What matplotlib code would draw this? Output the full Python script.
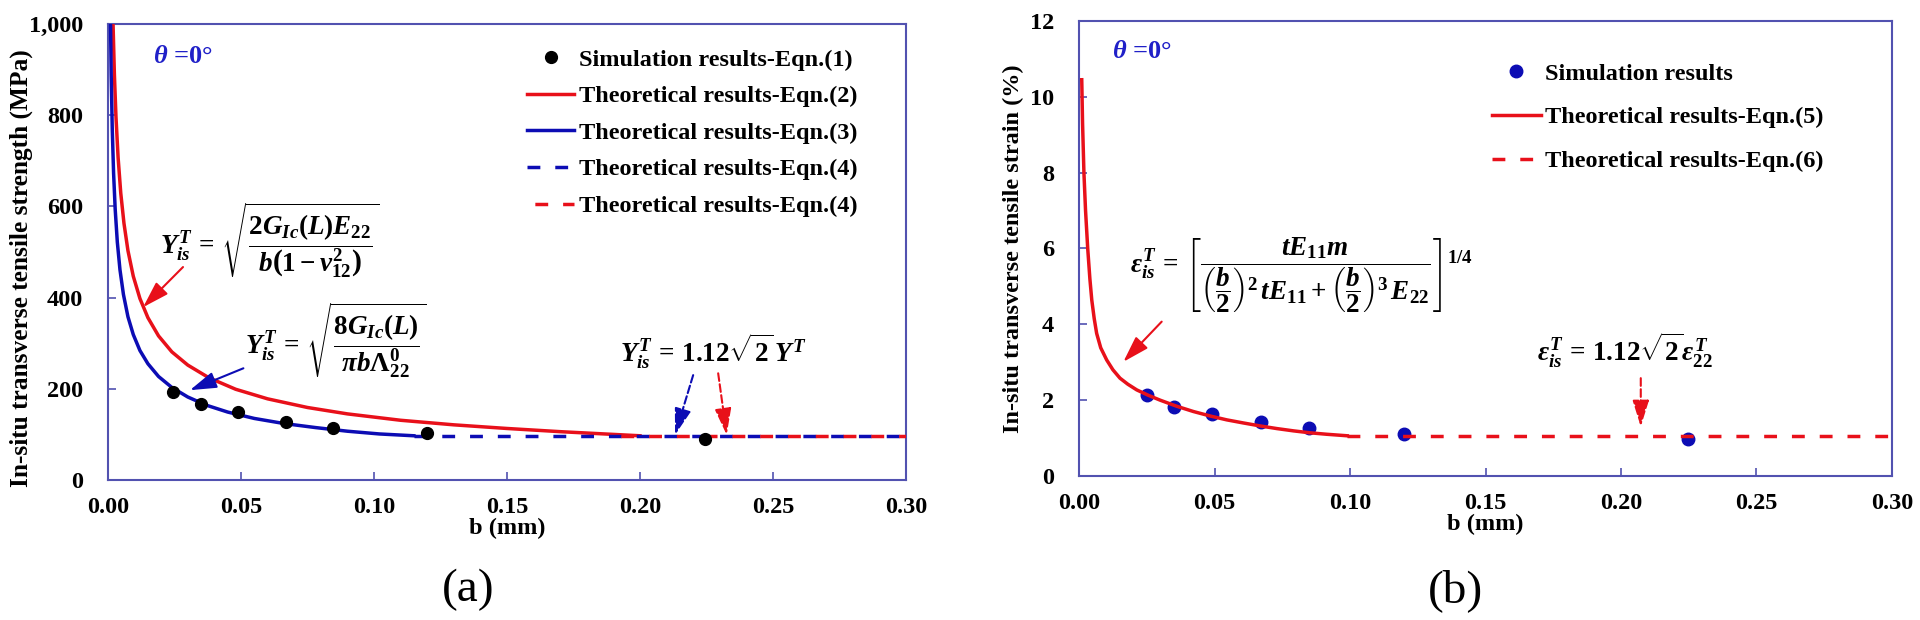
import matplotlib
matplotlib.use('Agg')
import matplotlib.pyplot as plt
from matplotlib.ticker import FuncFormatter

# ─────────── style ───────────
plt.rcParams['font.family'] = 'Liberation Serif'
plt.rcParams['font.weight'] = 'bold'
plt.rcParams['axes.labelweight'] = 'bold'
plt.rcParams['mathtext.fontset'] = 'custom'
plt.rcParams['mathtext.rm'] = 'Liberation Serif:bold'
plt.rcParams['mathtext.it'] = 'Liberation Serif:italic:bold'
plt.rcParams['mathtext.bf'] = 'Liberation Serif:bold'

RED = '#e8101a'
BLUE = '#0c0cb4'
SPINE = '#5252b0'
FS = 17.5
FS_EQ = 19.5

# ─────────── data (a): strength vs b ───────────
sim_b_a = [0.0244, 0.035, 0.0489, 0.067, 0.0846, 0.120, 0.2244]
sim_Y_a = [193, 167, 149, 127, 114, 103, 90]

eq2_b = [0.0019, 0.0024, 0.003, 0.0038, 0.0048, 0.006, 0.0075, 0.0095, 0.012, 0.015,
         0.019, 0.024, 0.030, 0.038, 0.048, 0.060, 0.075, 0.090, 0.110, 0.130,
         0.150, 0.170, 0.190, 0.200]
eq2_Y = [1000, 890, 796, 707, 629, 563, 503, 447, 398, 356,
         316, 281, 252, 224, 199, 178, 159, 145, 131, 121,
         113, 106, 100, 97]

eq3_b = [0.00095, 0.0012, 0.0016, 0.0021, 0.0027, 0.0035, 0.0045, 0.0058, 0.0075, 0.0095,
         0.012, 0.015, 0.019, 0.024, 0.030, 0.037, 0.045, 0.055, 0.066, 0.078,
         0.090, 0.102, 0.115]
eq3_Y = [1000, 888, 770, 673, 594, 522, 461, 407, 358, 319,
         284, 255, 227, 203, 182, 164, 149, 135, 124, 115,
         107, 101, 97]

eq4_blue_b = [0.115, 0.30]
eq4_blue_Y = [97, 97]
eq4_red_b = [0.19, 0.30]
eq4_red_Y = [97, 97]

# ─────────── data (b): strain vs b ───────────
sim_b_b = [0.0252, 0.0352, 0.0492, 0.0672, 0.0849, 0.120, 0.2248]
sim_e_b = [2.14, 1.81, 1.64, 1.42, 1.27, 1.12, 0.97]

eq5_b = [0.0010, 0.0013, 0.0018, 0.0024, 0.0032, 0.0040, 0.0047, 0.0056, 0.0065, 0.0080,
         0.0102, 0.0125, 0.0151, 0.0180, 0.0213, 0.0255, 0.0299, 0.0360, 0.0422, 0.0485,
         0.0545, 0.0605, 0.0668, 0.0730, 0.0791, 0.0850, 0.0914, 0.0990]
eq5_e = [10.45, 9.3, 8.0, 7.0, 6.0, 5.2, 4.64, 4.15, 3.76, 3.38,
         3.06, 2.80, 2.58, 2.42, 2.27, 2.13, 2.00, 1.84, 1.70, 1.58,
         1.48, 1.40, 1.32, 1.25, 1.19, 1.14, 1.10, 1.06]

eq6_b = [0.099, 0.30]
eq6_e = [1.06, 1.06]

DASH = (0, (3.7, 4.3))


def style_axes(ax):
    for s in ax.spines.values():
        s.set_color(SPINE)
        s.set_linewidth(1.5)
    ax.tick_params(direction='in', length=6, width=1.2, color=SPINE,
                   labelsize=FS, top=False, right=False)
    ax.tick_params(axis='x', pad=12)
    ax.tick_params(axis='y', pad=18)
    ax.set_xlim(0, 0.30)
    ax.set_xticks([0, 0.05, 0.10, 0.15, 0.20, 0.25, 0.30])
    ax.xaxis.set_major_formatter(FuncFormatter(lambda v, p: f'{v:.2f}'))
    ax.set_xlabel('b (mm)', fontsize=FS, labelpad=0)


fig = plt.figure(figsize=(19.2, 6.2), dpi=100)
ax1 = fig.add_axes([0.05625, 0.2258, 0.4156, 0.7355])
ax2 = fig.add_axes([0.5620, 0.2323, 0.4234, 0.7339])

# ─────────── panel (a) ───────────
ax1.plot(eq2_b, eq2_Y, color=RED, lw=2.5, label='Theoretical results-Eqn.(2)', zorder=3)
ax1.plot(eq3_b, eq3_Y, color=BLUE, lw=2.5, label='Theoretical results-Eqn.(3)', zorder=3)
ax1.plot(eq4_blue_b, eq4_blue_Y, color=BLUE, lw=2.5, ls=DASH,
         label='Theoretical results-Eqn.(4)', zorder=3)
ax1.plot(eq4_red_b, eq4_red_Y, color=RED, lw=2.5, ls=(5.74, (3.7, 4.3)),
         label='Theoretical results-Eqn.(4)', zorder=4)
ax1.plot(sim_b_a, sim_Y_a, 'o', color='black', ms=8.5,
         label='Simulation results-Eqn.(1)', zorder=5)

style_axes(ax1)
ax1.set_ylim(0, 1000)
ax1.set_yticks([0, 200, 400, 600, 800, 1000])
ax1.yaxis.set_major_formatter(FuncFormatter(lambda v, p: f'{int(v):,}'))
ax1.set_ylabel('In-situ transverse tensile strength (MPa)', fontsize=18.3)
ax1.yaxis.set_label_coords(-0.094, 0.465)

h, l = ax1.get_legend_handles_labels()
order = [4, 0, 1, 2, 3]
ax1.legend([h[i] for i in order], [l[i] for i in order], loc='upper left',
           bbox_to_anchor=(0.525, 0.946), frameon=False, fontsize=FS,
           borderpad=0, borderaxespad=0, handlelength=1.95, handletextpad=0.2,
           labelspacing=0.6)

ax1.text(0.056, 0.928, r'$\theta$ =0°', transform=ax1.transAxes, color='#2020c8',
         fontsize=19, va='center', ha='left')

ax1.text(0.0195, 526, r'$Y_{is}^{T}\,=\,\sqrt{\dfrac{2G_{Ic}(L)E_{22}}{b\left(1-\nu_{12}^{2}\right)}}$',
         fontsize=FS_EQ, va='center', ha='left')
ax1.text(0.0515, 307, r'$Y_{is}^{T}\,=\,\sqrt{\dfrac{8G_{Ic}(L)}{\pi b\Lambda_{22}^{0}}}$',
         fontsize=FS_EQ, va='center', ha='left')
ax1.text(0.1925, 281, r'$Y_{is}^{T}\,=\,1.12\sqrt{2}\,Y^{T}$',
         fontsize=FS_EQ, va='center', ha='left')

arrow_kw = dict(arrowstyle='-|>,head_length=0.9,head_width=0.28', lw=1.5,
                mutation_scale=18, shrinkA=0, shrinkB=0)
ax1.annotate('', xy=(0.0132, 379), xytext=(0.0282, 467),
             arrowprops=dict(color=RED, **arrow_kw))
ax1.annotate('', xy=(0.0308, 197), xytext=(0.0509, 245),
             arrowprops=dict(color=BLUE, **arrow_kw))
ax1.annotate('', xy=(0.2132, 99), xytext=(0.2200, 230),
             arrowprops=dict(color=BLUE, ls='--', **arrow_kw))
ax1.annotate('', xy=(0.2326, 99), xytext=(0.2294, 234),
             arrowprops=dict(color=RED, ls='--', **arrow_kw))

# ─────────── panel (b) ───────────
ax2.plot(sim_b_b, sim_e_b, 'o', color=BLUE, ms=9, label='Simulation results', zorder=3)
ax2.plot(eq5_b, eq5_e, color=RED, lw=2.5, label='Theoretical results-Eqn.(5)', zorder=4)
ax2.plot(eq6_b, eq6_e, color=RED, lw=2.5, ls=DASH, label='Theoretical results-Eqn.(6)', zorder=4)

style_axes(ax2)
ax2.set_ylim(0, 12)
ax2.set_yticks([0, 2, 4, 6, 8, 10, 12])
ax2.set_ylabel('In-situ transverse tensile strain (%)', fontsize=FS, labelpad=4)

ax2.legend(loc='upper left', bbox_to_anchor=(0.508, 0.908), frameon=False, fontsize=FS,
           borderpad=0, borderaxespad=0, handlelength=2.0, handletextpad=0.2,
           labelspacing=0.89)

ax2.text(0.041, 0.932, r'$\theta$ =0°', transform=ax2.transAxes, color='#2020c8',
         fontsize=19, va='center', ha='left')

ax2.text(0.0188, 5.3,
         r'$\varepsilon_{is}^{T}\,=\,\left[\dfrac{tE_{11}m}{\left(\dfrac{b}{2}\right)^{2}\,tE_{11}+\left(\dfrac{b}{2}\right)^{3}\,E_{22}}\right]^{1/4}$',
         fontsize=FS_EQ, va='center', ha='left')
ax2.text(0.169, 3.32, r'$\varepsilon_{is}^{T}\,=\,1.12\sqrt{2}\varepsilon_{22}^{T}$',
         fontsize=FS_EQ, va='center', ha='left')

ax2.annotate('', xy=(0.01635, 3.01), xytext=(0.0305, 4.07),
             arrowprops=dict(color=RED, **arrow_kw))
ax2.annotate('', xy=(0.2073, 1.30), xytext=(0.2073, 2.58),
             arrowprops=dict(color=RED, ls='--', **arrow_kw))

# ─────────── panel labels ───────────
fig.text(0.244, 0.048, '(a)', fontsize=34, fontweight='normal', ha='center', va='center')
fig.text(0.758, 0.048, '(b)', fontsize=34, fontweight='normal', ha='center', va='center')

fig.savefig('out.png', dpi=100)
